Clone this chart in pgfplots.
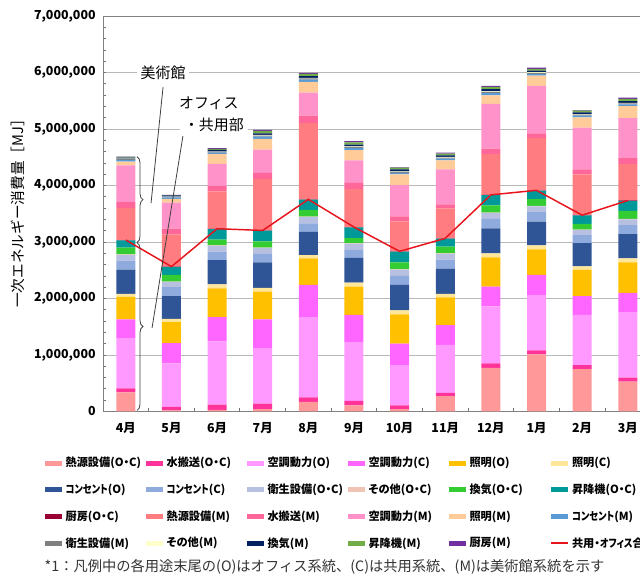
\documentclass[border=0pt]{standalone}
\usepackage{graphicx}
\usepackage{pgfplots}
\pgfplotsset{compat=1.18}
\usepackage{pgfplotstable}
\usepackage{fontspec}
\setmainfont{Noto Sans CJK JP}
\newfontfamily\legfont{Noto Sans CJK JP}[RawFeature=+palt]
\usetikzlibrary{decorations.pathreplacing}

\definecolor{c01}{HTML}{FF9999}
\definecolor{c02}{HTML}{FF3399}
\definecolor{c03}{HTML}{FF99FF}
\definecolor{c04}{HTML}{FF66FF}
\definecolor{c05}{HTML}{FFC000}
\definecolor{c06}{HTML}{FFE699}
\definecolor{c07}{HTML}{2F5597}
\definecolor{c08}{HTML}{8FAADC}
\definecolor{c09}{HTML}{B8C0E2}
\definecolor{c10}{HTML}{F0C4B4}
\definecolor{c11}{HTML}{33CC33}
\definecolor{c12}{HTML}{009999}
\definecolor{c13}{HTML}{990033}
\definecolor{c14}{HTML}{FF7C80}
\definecolor{c15}{HTML}{FF6699}
\definecolor{c16}{HTML}{FF92C8}
\definecolor{c17}{HTML}{FFCC99}
\definecolor{c18}{HTML}{5B9BD5}
\definecolor{c19}{HTML}{808080}
\definecolor{c20}{HTML}{FFFFCC}
\definecolor{c21}{HTML}{002060}
\definecolor{c22}{HTML}{70AD47}
\definecolor{c23}{HTML}{7030A0}
\definecolor{redline}{HTML}{E8141C}

\pgfplotsset{bl/.style={fill=#1, draw=none,
  legend image code/.code={\fill[##1] (0pt,-1.9pt) rectangle (12.75pt,1.9pt);}},
  rlegend/.style={legend image code/.code={\draw[##1] (0pt,0pt) -- (12.75pt,0pt);}}}
\newcommand{\LE}[1]{\makebox[59.5pt][l]{#1}}
\newcommand{\nk}[1]{\scalebox{0.82}[1]{#1}}

\pgfplotstableread{
x hO wO kO kC lO lC cO cC eO oO vO elO ktO hM wM kM lM cM eM oM vM elM ktM
0 340000 70000 890000 330000 400000 50000 430000 160000 100000 10000 120000 130000 5000 570000 100000 650000 70000 30000 10000 10000 20000 10000 5000
1 20000 60000 770000 360000 370000 60000 400000 160000 90000 10000 120000 140000 5000 570000 100000 460000 70000 25000 10000 5000 20000 5000 5000
2 30000 90000 1120000 430000 510000 70000 430000 150000 100000 10000 100000 190000 5000 660000 100000 390000 170000 25000 10000 10000 30000 20000 10000
3 40000 100000 980000 510000 490000 70000 450000 150000 100000 10000 110000 190000 5000 910000 110000 410000 190000 40000 20000 10000 30000 40000 20000
4 170000 80000 1410000 580000 470000 60000 410000 150000 110000 10000 120000 180000 5000 1350000 130000 410000 190000 40000 20000 10000 30000 40000 20000
5 110000 80000 1030000 490000 500000 70000 440000 140000 110000 10000 90000 190000 5000 670000 110000 400000 180000 40000 20000 10000 30000 40000 20000
6 40000 70000 700000 390000 520000 70000 450000 160000 110000 10000 120000 190000 5000 530000 90000 550000 190000 30000 20000 10000 30000 30000 10000
7 270000 60000 850000 350000 490000 60000 450000 160000 100000 10000 120000 140000 5000 530000 70000 620000 160000 30000 20000 10000 30000 30000 15000
8 770000 80000 1010000 350000 520000 70000 440000 170000 100000 10000 130000 180000 5000 720000 100000 790000 150000 40000 20000 10000 40000 40000 20000
9 1010000 70000 970000 370000 450000 70000 420000 170000 100000 10000 120000 150000 5000 930000 80000 840000 180000 30000 20000 10000 30000 30000 20000
10 750000 70000 890000 330000 470000 60000 410000 140000 90000 10000 100000 150000 5000 720000 90000 740000 180000 30000 20000 10000 30000 30000 10000
11 530000 70000 1150000 350000 540000 70000 430000 160000 100000 10000 140000 180000 5000 650000 100000 710000 210000 30000 20000 10000 30000 40000 20000
}\data

\pgfplotstableread{
x total
0 3035000
1 2565000
2 3235000
3 3205000
4 3755000
5 3265000
6 2835000
7 3065000
8 3835000
9 3915000
10 3475000
11 3735000
}\totals

\begin{document}
\begin{tikzpicture}
\useasboundingbox (-77.25pt,-124.125pt) rectangle (402.75pt,308.625pt);
\clip (-77.25pt,-124.125pt) rectangle (402.75pt,308.625pt);
\begin{axis}[
  scale only axis, width=410.7pt, height=296.6pt,
  ybar stacked, bar width=14.25pt,
  xmin=-0.5, xmax=11.5, ymin=0, ymax=7000000,
  xtick={0,...,11},
  xticklabels={4月,5月,6月,7月,8月,9月,10月,11月,12月,1月,2月,3月},
  minor xtick={0.5,1.5,...,10.5},
  ytick={0,1000000,...,7000000},
  minor y tick num=4,
  tick pos=left, tick align=inside,
  major tick length=2.6pt, minor tick length=2.6pt,
  major x tick style={draw=none},
  tick style={draw=black!55, line width=0.6pt},
  ymajorgrids, grid style={draw=black!28, line width=0.6pt},
  axis line style={draw=black!50, line width=0.7pt},
  scaled y ticks=false,
  /pgf/number format/assume math mode=true,
  yticklabel style={/pgf/number format/fixed, /pgf/number format/precision=0, /pgf/number format/1000 sep={,}, font=\bfseries\fontsize{9.3pt}{11pt}\selectfont, xshift=-2pt},
  xticklabel style={font=\bfseries\fontsize{9.3pt}{11pt}\selectfont, yshift=-4.5pt},
  ylabel={一次エネルギー消費量［MJ］},
  ylabel style={at={(axis description cs:-0.155,0.51)}, anchor=center, font=\fontsize{11pt}{13pt}\selectfont},
]
\addplot[bl=c01] table[x=x,y=hO]{\data};
\addplot[bl=c02] table[x=x,y=wO]{\data};
\addplot[bl=c03] table[x=x,y=kO]{\data};
\addplot[bl=c04] table[x=x,y=kC]{\data};
\addplot[bl=c05] table[x=x,y=lO]{\data};
\addplot[bl=c06] table[x=x,y=lC]{\data};
\addplot[bl=c07] table[x=x,y=cO]{\data};
\addplot[bl=c08] table[x=x,y=cC]{\data};
\addplot[bl=c09] table[x=x,y=eO]{\data};
\addplot[bl=c10] table[x=x,y=oO]{\data};
\addplot[bl=c11] table[x=x,y=vO]{\data};
\addplot[bl=c12] table[x=x,y=elO]{\data};
\addplot[bl=c13] table[x=x,y=ktO]{\data};
\addplot[bl=c14] table[x=x,y=hM]{\data};
\addplot[bl=c15] table[x=x,y=wM]{\data};
\addplot[bl=c16] table[x=x,y=kM]{\data};
\addplot[bl=c17] table[x=x,y=lM]{\data};
\addplot[bl=c18] table[x=x,y=cM]{\data};
\addplot[bl=c19] table[x=x,y=eM]{\data};
\addplot[bl=c20] table[x=x,y=oM]{\data};
\addplot[bl=c21] table[x=x,y=vM]{\data};
\addplot[bl=c22] table[x=x,y=elM]{\data};
\addplot[bl=c23] table[x=x,y=ktM]{\data};
\end{axis}
\begin{axis}[
  scale only axis, width=410.7pt, height=296.6pt,
  xmin=-0.5, xmax=11.5, ymin=0, ymax=7000000,
  hide axis, clip=false,
  legend columns=6,
  legend cell align=left,
  legend style={at={(-0.106,-0.112)}, anchor=north west, draw=none, fill=none, inner sep=0pt,
    font=\legfont\bfseries\fontsize{8.4pt}{10pt}\selectfont,
    nodes={inner sep=1pt},
    /tikz/every even column/.append style={column sep=0pt},
    /tikz/every odd column/.append style={column sep=1.5pt},
    row sep=9.3pt},
]
\addlegendimage{bl=c01} \addlegendentry{\LE{熱源設備(O・C)}}
\addlegendimage{bl=c02} \addlegendentry{\LE{水搬送(O・C)}}
\addlegendimage{bl=c03} \addlegendentry{\LE{空調動力(O)}}
\addlegendimage{bl=c04} \addlegendentry{\LE{空調動力(C)}}
\addlegendimage{bl=c05} \addlegendentry{\LE{照明(O)}}
\addlegendimage{bl=c06} \addlegendentry{\LE{照明(C)}}
\addlegendimage{bl=c07} \addlegendentry{\LE{\nk{コンセント}(O)}}
\addlegendimage{bl=c08} \addlegendentry{\LE{\nk{コンセント}(C)}}
\addlegendimage{bl=c09} \addlegendentry{\LE{衛生設備(O・C)}}
\addlegendimage{bl=c10} \addlegendentry{\LE{その他(O・C)}}
\addlegendimage{bl=c11} \addlegendentry{\LE{換気(O・C)}}
\addlegendimage{bl=c12} \addlegendentry{\LE{昇降機(O・C)}}
\addlegendimage{bl=c13} \addlegendentry{\LE{厨房(O・C)}}
\addlegendimage{bl=c14} \addlegendentry{\LE{熱源設備(M)}}
\addlegendimage{bl=c15} \addlegendentry{\LE{水搬送(M)}}
\addlegendimage{bl=c16} \addlegendentry{\LE{空調動力(M)}}
\addlegendimage{bl=c17} \addlegendentry{\LE{照明(M)}}
\addlegendimage{bl=c18} \addlegendentry{\LE{\nk{コンセント}(M)}}
\addlegendimage{bl=c19} \addlegendentry{\LE{衛生設備(M)}}
\addlegendimage{bl=c20} \addlegendentry{\LE{その他(M)}}
\addlegendimage{bl=c21} \addlegendentry{\LE{換気(M)}}
\addlegendimage{bl=c22} \addlegendentry{\LE{昇降機(M)}}
\addlegendimage{bl=c23} \addlegendentry{\LE{厨房(M)}}
\addplot[redline, line width=1.1pt, no marks, sharp plot, rlegend] table[x=x,y=total]{\totals};
\addlegendentry{\LE{共用・\nk{オフィス}合計}}
\draw[black!75, line width=0.6pt] (axis cs:0.816,5740000) -- (axis cs:0.553,3690000);
\draw[black!75, line width=0.6pt] (axis cs:1.254,4890000) -- (axis cs:0.575,1480000);
\draw[black!75, line width=0.6pt, decorate, decoration={brace, amplitude=4.5pt}] (axis cs:0.245,4510000) -- (axis cs:0.245,2990000);
\draw[black!75, line width=0.6pt, decorate, decoration={brace, amplitude=4.5pt}] (axis cs:0.245,2990000) -- (axis cs:0.245,20000);
\node[fill=white, inner sep=3pt, font=\fontsize{11.2pt}{13pt}\selectfont] at (axis cs:0.816,6000000) {美術館};
\node[inner sep=1pt, font=\fontsize{11.2pt}{13pt}\selectfont] at (axis cs:1.82,5460000) {オフィス};
\node[fill=white, inner sep=3pt, font=\fontsize{11.2pt}{13pt}\selectfont] at (axis cs:1.93,5070000) {・共用部};
\node[anchor=west, text=black!80, font=\fontsize{10.7pt}{13pt}\selectfont] at (axis description cs:-0.115,-0.393) {*1：凡例中の各用途末尾の(O)はオフィス系統、(C)は共用系統、(M)は美術館系統を示す};
\end{axis}
\end{tikzpicture}
\end{document}
